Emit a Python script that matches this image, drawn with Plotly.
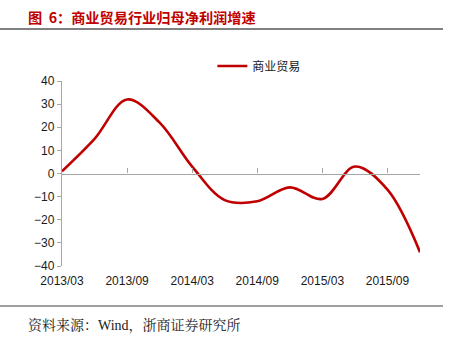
import plotly.graph_objects as go

# Quarterly net profit growth (attributable to parent), %
quarters = ["2013/03", "2013/06", "2013/09", "2013/12", "2014/03", "2014/06",
            "2014/09", "2014/12", "2015/03", "2015/06", "2015/09", "2015/12"]
growth = [1, 15, 32, 22, 3, -11.5, -12, -6, -11, 3, -7, -34]
series_name = "商业贸易"
tick_labels = ["2013/03", "2013/09", "2014/03", "2014/09", "2015/03", "2015/09"]
y_ticks = [40, 30, 20, 10, 0, -10, -20, -30, -40]

RED = "#C00000"
GRAY = "#A6A6A6"
TXT = "#1a1a1a"

idx = list(range(len(quarters)))
label_pos = [quarters.index(t) for t in tick_labels]

fig = go.Figure()
fig.add_trace(go.Scatter(
    x=idx, y=growth, mode="lines", name=series_name,
    line=dict(color=RED, width=2.6, shape="spline", smoothing=1.0),
    cliponaxis=False,
))
# invisible trace bound to the zero-line axis so it renders
fig.add_trace(go.Scatter(x=[0, 11], y=[0, 0], xaxis="x2", mode="lines",
                         line=dict(width=0), showlegend=False, hoverinfo="skip"))

fig.update_layout(
    width=453, height=347,
    margin=dict(l=62, r=33, t=81, b=81),
    paper_bgcolor="white", plot_bgcolor="white",
    font=dict(family="Liberation Sans, Arial, Noto Sans CJK SC", size=12, color=TXT),
    showlegend=True,
    legend=dict(x=0.42, y=1 + (81 - 66) / 185, xanchor="left", yanchor="middle",
                font=dict(size=12, family="Noto Sans CJK SC", color=TXT),
                bgcolor="rgba(0,0,0,0)", itemwidth=30),
    xaxis=dict(range=[0, 11], tickmode="array", tickvals=label_pos, ticktext=tick_labels,
               showline=False, showgrid=False, zeroline=False, ticks="",
               ticklabelstandoff=6, tickfont=dict(size=12, color=TXT)),
    xaxis2=dict(range=[0, 11], overlaying="x", anchor="free", position=0.5,
                tickmode="array", tickvals=label_pos[1:], showticklabels=False,
                showline=True, linecolor=GRAY, linewidth=1.3,
                ticks="inside", ticklen=5, tickcolor=GRAY, tickwidth=1,
                showgrid=False, zeroline=False),
    yaxis=dict(range=[-40, 40], tickmode="array", tickvals=y_ticks,
               showline=True, linecolor=GRAY, linewidth=1.3,
               ticks="outside", ticklen=4, tickcolor=GRAY,
               showgrid=False, zeroline=False,
               tickfont=dict(size=12, color=TXT)),
)

# header, separators and source note
fig.add_annotation(text="<b>图  6：商业贸易行业归母净利润增速</b>", xref="paper", yref="paper",
                   x=(26 - 62) / 358, y=1 + (81 - 17) / 185, xanchor="left", yanchor="middle",
                   showarrow=False, font=dict(size=14.2, color=RED, family="Noto Sans CJK SC"))
fig.add_shape(type="line", xref="paper", yref="paper", x0=-62 / 358, x1=(443 - 62) / 358,
              y0=1 + (81 - 29) / 185, y1=1 + (81 - 29) / 185, line=dict(color="#808080", width=2))
fig.add_shape(type="line", xref="paper", yref="paper", x0=-62 / 358, x1=(443 - 62) / 358,
              y0=-(306 - 266) / 185, y1=-(306 - 266) / 185, line=dict(color="#404040", width=1))
fig.add_annotation(text="资料来源：Wind，浙商证券研究所", xref="paper", yref="paper",
                   x=(26 - 62) / 358, y=-(325 - 266) / 185, xanchor="left", yanchor="middle",
                   showarrow=False,
                   font=dict(size=14, color=TXT, family="Liberation Serif, Noto Serif CJK SC, Noto Sans CJK SC"))

fig.write_html("out.html")
